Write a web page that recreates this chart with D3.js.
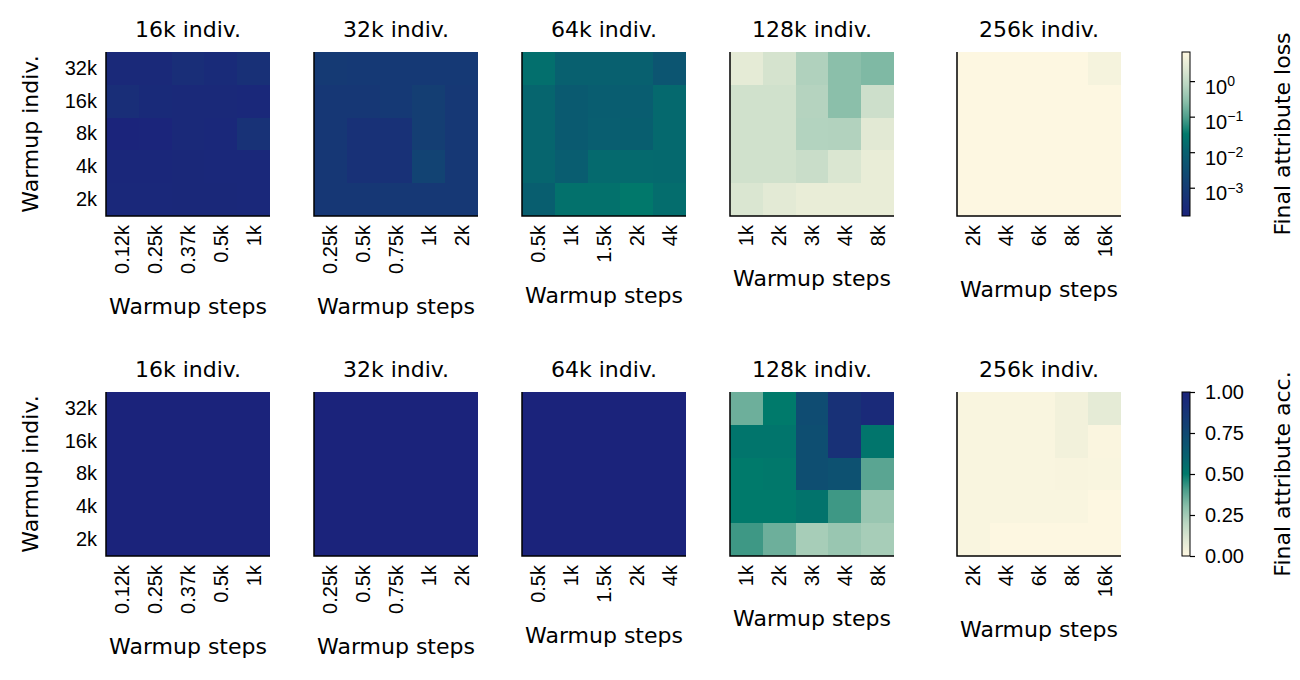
<!DOCTYPE html>
<html>
<head>
<meta charset="utf-8">
<script src="https://cdn.jsdelivr.net/npm/d3@7"></script>
<style>
  body { margin: 0; background: #fff; }
  svg { font-family: "DejaVu Sans", sans-serif; }
</style>
</head>
<body>
<svg id="chart" width="1300" height="680"></svg>
<script>
// warmup grid -- final attribute loss / acc heatmaps

var panelTitles = ["16k indiv.", "32k indiv.", "64k indiv.", "128k indiv.", "256k indiv."];
var warmupIndiv = ["32k", "16k", "8k", "4k", "2k"]; // top to bottom
var warmupSteps = [
  ["0.12k", "0.25k", "0.37k", "0.5k", "1k"],
  ["0.25k", "0.5k", "0.75k", "1k", "2k"],
  ["0.5k", "1k", "1.5k", "2k", "4k"],
  ["1k", "2k", "3k", "4k", "8k"],
  ["2k", "4k", "6k", "8k", "16k"]
];

// rows follow warmupIndiv, columns follow warmupSteps
var loss16k = [
  [2.6e-4, 2.6e-4, 3.6e-4, 3.0e-4, 4.2e-4],
  [3.6e-4, 2.8e-4, 2.6e-4, 2.6e-4, 2.3e-4],
  [1.7e-4, 1.8e-4, 2.6e-4, 2.3e-4, 4.8e-4],
  [2.2e-4, 2.2e-4, 2.4e-4, 2.3e-4, 2.3e-4],
  [2.3e-4, 2.3e-4, 2.4e-4, 2.4e-4, 2.3e-4]
];
var loss32k = [
  [9.0e-4, 8.0e-4, 8.0e-4, 8.0e-4, 8.0e-4],
  [7.0e-4, 7.0e-4, 8.0e-4, 1.2e-3, 7.5e-4],
  [7.0e-4, 4.6e-4, 4.6e-4, 1.2e-3, 7.5e-4],
  [7.0e-4, 4.6e-4, 4.6e-4, 1.6e-3, 7.5e-4],
  [7.0e-4, 7.0e-4, 7.5e-4, 7.5e-4, 7.5e-4]
];
var loss64k = [
  [2.0e-2, 1.0e-2, 1.0e-2, 1.0e-2, 5.0e-3],
  [1.3e-2, 7.0e-3, 8.0e-3, 8.0e-3, 1.5e-2],
  [1.3e-2, 7.0e-3, 8.5e-3, 9.0e-3, 1.5e-2],
  [1.3e-2, 8.0e-3, 1.6e-2, 1.6e-2, 1.5e-2],
  [9.0e-3, 2.2e-2, 2.2e-2, 3.0e-2, 1.8e-2]
];
var loss128k = [
  [2.8, 1.7, 0.63, 0.27, 0.22],
  [1.5, 1.5, 0.70, 0.27, 1.35],
  [1.5, 1.5, 0.68, 0.66, 2.5],
  [1.5, 1.5, 1.2, 2.0, 3.2],
  [2.0, 2.6, 3.2, 3.2, 3.2]
];
var loss256k = [
  [6.4, 6.4, 6.4, 6.4, 4.8],
  [6.4, 6.4, 6.4, 6.4, 6.4],
  [6.4, 6.4, 6.4, 6.4, 6.4],
  [6.4, 6.4, 6.4, 6.4, 6.4],
  [6.4, 6.4, 6.4, 6.4, 6.4]
];

var acc16k = [
  [1, 1, 1, 1, 1], [1, 1, 1, 1, 1], [1, 1, 1, 1, 1], [1, 1, 1, 1, 1], [1, 1, 1, 1, 1]
];
var acc32k = [
  [1, 1, 1, 1, 1], [1, 1, 1, 1, 1], [1, 1, 1, 1, 1], [1, 1, 1, 1, 1], [1, 1, 1, 1, 1]
];
var acc64k = [
  [1, 1, 1, 1, 1], [1, 1, 1, 1, 1], [1, 1, 1, 1, 1], [1, 1, 1, 1, 1], [1, 1, 1, 1, 1]
];
var acc128k = [
  [0.35, 0.50, 0.73, 0.90, 0.95],
  [0.52, 0.52, 0.72, 0.90, 0.52],
  [0.50, 0.51, 0.72, 0.70, 0.38],
  [0.50, 0.50, 0.53, 0.42, 0.27],
  [0.42, 0.35, 0.24, 0.27, 0.24]
];
var acc256k = [
  [0.015, 0.015, 0.015, 0.04, 0.08],
  [0.015, 0.015, 0.015, 0.04, 0.012],
  [0.015, 0.015, 0.015, 0.02, 0.015],
  [0.015, 0.015, 0.015, 0.015, 0.003],
  [0.015, 0.003, 0.003, 0.003, 0.003]
];

var lossRange = [1.6e-4, 6.6];
var lossTicks = [1e-3, 1e-2, 1e-1, 1];
var accRange = [0, 1];
var accTicks = [0, 0.25, 0.5, 0.75, 1];

// cream -> green -> teal -> navy
var cmapStops = [0, 0.1, 0.2, 0.3, 0.4, 0.5, 0.6, 0.7, 0.8, 0.9, 1];
var cmapColors = ["#fef7e1", "#dfe8d3", "#bad6c2", "#8bbfaa", "#4e9f8c", "#007a6b",
                  "#07626f", "#0d5171", "#134073", "#183177", "#1b237b"];

///////////////////////////////////////////////////////////////////////////////
// layout

var svg = d3.select("#chart");
var cmap = d3.scaleLinear().domain(cmapStops).range(cmapColors).interpolate(d3.interpolateRgb);

var panelW = 164, panelH = 164;
var panelX = [106, 314, 522, 730, 957];
var rowY = [52, 392];
var cbarX = 1182, cbarW = 8;
var tickFont = 20, labelFont = 22;

var lossScale = d3.scaleLog().domain(lossRange).range([0, 1]);

var lossColor = function (v) { return cmap(1 - lossScale(v)); };
var accColor = function (v) { return cmap(v); };

var rows = [
  {data: [loss16k, loss32k, loss64k, loss128k, loss256k], color: lossColor},
  {data: [acc16k, acc32k, acc64k, acc128k, acc256k], color: accColor}
];

///////////////////////////////////////////////////////////////////////////////
// heatmaps

rows.forEach(function (row, r) {
  row.data.forEach(function (grid, p) {
    var g = svg.append("g")
      .attr("transform", "translate(" + panelX[p] + "," + rowY[r] + ")");

    var x = d3.scaleBand().domain(warmupSteps[p]).range([0, panelW]);
    var y = d3.scaleBand().domain(warmupIndiv).range([0, panelH]);

    var cells = [];
    grid.forEach(function (vals, i) {
      vals.forEach(function (v, j) {
        cells.push({row: warmupIndiv[i], col: warmupSteps[p][j], value: v});
      });
    });

    g.selectAll("rect.cell").data(cells).enter().append("rect")
      .attr("class", "cell")
      .attr("x", function (d) { return x(d.col); })
      .attr("y", function (d) { return y(d.row); })
      .attr("width", x.bandwidth())
      .attr("height", y.bandwidth())
      .attr("shape-rendering", "crispEdges")
      .attr("fill", function (d) { return row.color(d.value); });

    // bottom axis, rotated labels, no tick marks
    var xAxis = g.append("g")
      .attr("transform", "translate(0," + panelH + ")")
      .call(d3.axisBottom(x).tickSize(0).tickPadding(0));
    xAxis.select(".domain").remove();
    xAxis.selectAll("text")
      .attr("font-size", tickFont)
      .attr("fill", "#000")
      .attr("text-anchor", "end")
      .attr("dy", "0.35em")
      .attr("y", 0)
      .attr("transform", "translate(0,9) rotate(-90)");

    if (p === 0) {
      var yAxis = g.append("g").call(d3.axisLeft(y).tickSize(0).tickPadding(9));
      yAxis.select(".domain").remove();
      yAxis.selectAll("text").attr("font-size", tickFont).attr("fill", "#000");
      g.append("text")
        .attr("transform", "translate(-76," + panelH / 2 + ") rotate(-90)")
        .attr("text-anchor", "middle")
        .attr("dy", "0.35em")
        .attr("font-size", labelFont)
        .text("Warmup indiv.");
    }

    // spines
    g.append("path")
      .attr("d", "M0,0V" + panelH + "H" + panelW)
      .attr("fill", "none")
      .attr("stroke", "#000")
      .attr("stroke-width", 1.5);

    g.append("text")
      .attr("x", panelW / 2)
      .attr("y", -15)
      .attr("text-anchor", "middle")
      .attr("font-size", labelFont)
      .text(panelTitles[p]);

    var tickBox = xAxis.node().getBBox();
    g.append("text")
      .attr("x", panelW / 2)
      .attr("y", panelH + tickBox.y + tickBox.height + 40)
      .attr("text-anchor", "middle")
      .attr("font-size", labelFont)
      .text("Warmup steps");
  });
});

///////////////////////////////////////////////////////////////////////////////
// colorbars

var defs = svg.append("defs");
var grad = defs.append("linearGradient")
  .attr("id", "cbar").attr("x1", 0).attr("y1", 1).attr("x2", 0).attr("y2", 0);
d3.range(0, 1.0001, 0.02).forEach(function (s) {
  grad.append("stop").attr("offset", s).attr("stop-color", cmap(s));
});
var gradLoss = defs.append("linearGradient")
  .attr("id", "cbarLoss").attr("x1", 0).attr("y1", 0).attr("x2", 0).attr("y2", 1);
d3.range(0, 1.0001, 0.02).forEach(function (s) {
  gradLoss.append("stop").attr("offset", s).attr("stop-color", cmap(s));
});

var drawColorbar = function (top, scale, ticks, fill, label, fmt) {
  var g = svg.append("g").attr("transform", "translate(" + cbarX + "," + top + ")");
  g.append("rect")
    .attr("width", cbarW).attr("height", panelH)
    .attr("fill", fill);
  g.append("rect")
    .attr("width", cbarW).attr("height", panelH)
    .attr("fill", "none").attr("stroke", "#000").attr("stroke-width", 1);

  var ax = g.append("g")
    .attr("transform", "translate(" + cbarW + ",0)")
    .call(d3.axisRight(scale).tickValues(ticks).tickSize(5).tickPadding(10).tickFormat(fmt));
  ax.select(".domain").remove();
  ax.selectAll("line").attr("stroke", "#000").attr("stroke-width", 1.2);
  ax.selectAll("text").attr("font-size", tickFont).attr("fill", "#000");

  g.append("text")
    .attr("transform", "translate(100," + panelH / 2 + ") rotate(-90)")
    .attr("text-anchor", "middle")
    .attr("dy", "0.35em")
    .attr("font-size", labelFont)
    .text(label);
  return ax;
};

var lossAxisScale = d3.scaleLog().domain(lossRange).range([panelH, 0]);
var lossAx = drawColorbar(rowY[0], lossAxisScale, lossTicks, "url(#cbarLoss)",
  "Final attribute loss", function () { return ""; });
lossAx.selectAll("text").each(function (d) {
  var t = d3.select(this);
  var e = Math.round(Math.log10(d));
  t.append("tspan").text("10");
  t.append("tspan")
    .attr("dy", "-0.55em")
    .attr("font-size", 14)
    .text(String(e).replace("-", "\u2212"));
});
lossAx.selectAll("text").attr("dy", "0.6em");

var accAxisScale = d3.scaleLinear().domain(accRange).range([panelH, 0]);
drawColorbar(rowY[1], accAxisScale, accTicks, "url(#cbar)",
  "Final attribute acc.", d3.format(".2f"));
</script>
</body>
</html>
